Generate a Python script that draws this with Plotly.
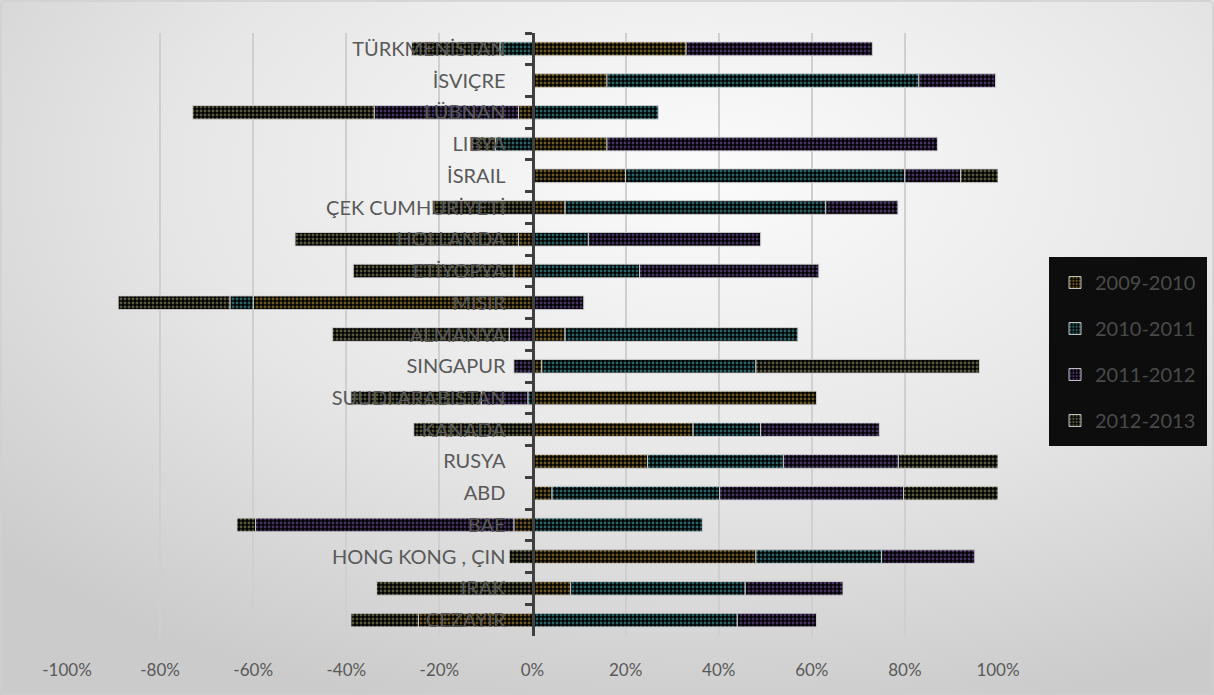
import base64
import plotly.graph_objects as go

categories = ["TÜRKMENİSTAN", "İSVIÇRE", "LÜBNAN", "LIBYA", "İSRAIL", "ÇEK CUMHURİYETİ",
              "HOLLANDA", "ETİYOPYA", "MISIR", "ALMANYA", "SINGAPUR", "SUUDI ARABISTAN",
              "KANADA", "RUSYA", "ABD", "BAE", "HONG KONG , ÇIN", "IRAK", "CEZAYIR"]

s2009_2010 = [33, 16, -3, 16, 20, 7, -3, -4, -60, 7, 2, 61, 34.5, 24.7, 4.2, -4, 48, 8.2, -24.5]
s2010_2011 = [-7, 67, 27, -8, 60, 56, 12, 23, -5, 50, 46, -1, 14.5, 29.2, 36, 36.5, 27, 37.5, 44]
s2011_2012 = [40, 16.5, -31, 71, 12, 15.5, 37, 38.5, 11, -5, -4, -10, 25.5, 24.7, 39.5, -55.5, 20, 21, 17]
s2012_2013 = [-19, 0, -39, -5, 8, -21.5, -48, -34.5, -24, -38, 48, -28, -25.5, 21.4, 20.3, -4, -5, -33.5, -14.5]

series_names = ["2009-2010", "2010-2011", "2011-2012", "2012-2013"]
series_values = [s2009_2010, s2010_2011, s2011_2012, s2012_2013]
dot_colors = ["#d8ad40", "#4fc6ce", "#9068c8", "#b0b078"]

x_tick_vals = [-100, -80, -60, -40, -20, 0, 20, 40, 60, 80, 100]
x_tick_text = ["-100%", "-80%", "-60%", "-40%", "-20%", "0%", "20%", "40%", "60%", "80%", "100%"]

W, H = 1214, 695
x0_px, x1_px = 67, 998
y_top_px, y_bot_px = 33, 636

fig = go.Figure()
for i, (name, vals) in enumerate(zip(series_names, series_values)):
    fig.add_trace(go.Bar(
        y=categories, x=vals, name=name, orientation="h",
        legendgroup=name,
        marker=dict(color="black",
                    line=dict(color="rgba(210,210,210,0.9)", width=1),
                    pattern=dict(shape=".", fgcolor=dot_colors[i], bgcolor="black",
                                 size=4, solidity=0.42)),
        hoverinfo="skip",
    ))

svg = """<svg xmlns='http://www.w3.org/2000/svg' width='1214' height='695' viewBox='0 0 1214 695'>
<defs><radialGradient id='g' cx='0.58' cy='0.25' r='0.8' fx='0.58' fy='0.25'>
<stop offset='0' stop-color='#fbfbfb'/><stop offset='0.55' stop-color='#e6e6e6'/><stop offset='1' stop-color='#cbcbcb'/>
</radialGradient></defs>
<rect x='0' y='0' width='1214' height='695' fill='url(#g)'/>
<rect x='1' y='1' width='1212' height='693' rx='4' fill='none' stroke='#d0d0d0' stroke-width='1.5'/>
</svg>"""
src = "data:image/svg+xml;base64," + base64.b64encode(svg.encode()).decode()

x_dom = [x0_px / W, x1_px / W]
y_dom = [(H - y_bot_px) / H, (H - y_top_px) / H]
zero_pos = x_dom[0] + 0.5 * (x_dom[1] - x_dom[0])

fig.update_layout(
    template="plotly",
    width=W, height=H,
    barmode="relative", bargap=0.57,
    margin=dict(l=0, r=0, t=0, b=0, pad=0, autoexpand=False),
    paper_bgcolor="#e3e3e3", plot_bgcolor="rgba(0,0,0,0)",
    font=dict(family="Lato, Open Sans, sans-serif", color="#595959"),
    images=[dict(source=src, xref="paper", yref="paper", x=0, y=1, sizex=1, sizey=1,
                 sizing="stretch", layer="below", xanchor="left", yanchor="top")],
    xaxis=dict(domain=x_dom, range=[-100, 100], tickmode="array",
               tickvals=x_tick_vals, ticktext=x_tick_text, automargin=False,
               showgrid=True, gridcolor="#cfcfcf", gridwidth=1.5, zeroline=False,
               showline=False, ticks="", ticklabelstandoff=22,
               tickfont=dict(size=17, color="#595959")),
    yaxis=dict(domain=y_dom, anchor="free", position=zero_pos, autorange="reversed",
               automargin=False,
               showline=True, linecolor="#404040", linewidth=3,
               ticks="outside", tickson="boundaries", ticklen=7, tickwidth=3, tickcolor="#404040",
               showgrid=False, zeroline=False, ticklabelstandoff=22,
               tickfont=dict(size=20, color="#595959")),
    legend=dict(x=1049 / W, y=(H - 257) / H, xanchor="left", yanchor="top",
                bgcolor="#0d0d0d", bordercolor="#0d0d0d", borderwidth=6,
                font=dict(size=20, color="#4a4a4a"), traceorder="grouped",
                tracegroupgap=17, itemwidth=30),
    showlegend=True,
)

fig.write_html("out.html", config={"displayModeBar": False},
               post_script="document.body.style.margin='0px';")
